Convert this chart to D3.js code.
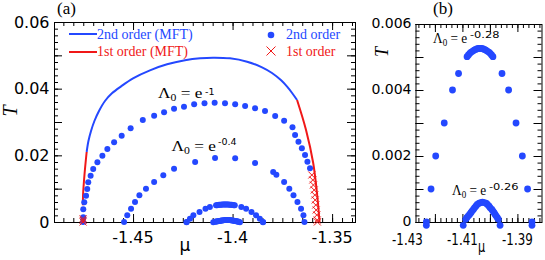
<!DOCTYPE html>
<html><head><meta charset="utf-8">
<script src="https://cdn.jsdelivr.net/npm/d3@7"></script>
<style>body{margin:0;background:#fff}</style>
</head><body>
<svg id="c" width="545" height="260"></svg>
<script>
// ---------------- data ----------------
// Mean-field (MFT) phase boundary, panel (a)
const mftRedLeftMu  = [-1.4752, -1.4751, -1.4744, -1.4733];
const mftRedLeftT   = [0.0050, 0.0081, 0.0141, 0.0210];
const mftBlueMu = [-1.4733, -1.4724, -1.4711, -1.4694, -1.4671, -1.4641, -1.4606, -1.4560, -1.4500, -1.4415, -1.4329, -1.4239, -1.4163, -1.4098, -1.4013, -1.3927, -1.3852, -1.3802, -1.3756, -1.3726, -1.3701, -1.3676];
const mftBlueT  = [0.0210, 0.0243, 0.0273, 0.0303, 0.0333, 0.0363, 0.0386, 0.0407, 0.0431, 0.0455, 0.0473, 0.0485, 0.0491, 0.0493, 0.0491, 0.0481, 0.0464, 0.0447, 0.0425, 0.0406, 0.0387, 0.0366];
const mftRedRightMu = [-1.3676, -1.3631, -1.3595, -1.3575, -1.3563];
const mftRedRightT  = [0.0366, 0.0276, 0.0177, 0.0081, 0.0000];

// first-order points (crosses)
const firstLeftMu  = [-1.4751, -1.4751, -1.4751];
const firstLeftT   = [0.0000, 0.0005, 0.0010];
const firstRightMu = [-1.3574, -1.3575, -1.3577, -1.3580, -1.3582, -1.3585, -1.3587, -1.3590, -1.3594, -1.3597, -1.3602];
const firstRightT  = [0.0000, 0.0006, 0.0021, 0.0036, 0.0051, 0.0066, 0.0081, 0.0096, 0.0111, 0.0126, 0.0141];

// second-order points, Lambda0 = e^-1
const secAMu = [-1.4751, -1.4750, -1.4750, -1.4745, -1.4736, -1.4730, -1.4725, -1.4713, -1.4700, -1.4679, -1.4654, -1.4629, -1.4595, -1.4557, -1.4512, -1.4451, -1.4394, -1.4344, -1.4294, -1.4244, -1.4193, -1.4141, -1.4090, -1.4038, -1.3987, -1.3937, -1.3887, -1.3837, -1.3786, -1.3741, -1.3699, -1.3686, -1.3669, -1.3652, -1.3636, -1.3624, -1.3611];
const secAT  = [0.0000, 0.0014, 0.0038, 0.0059, 0.0079, 0.0099, 0.0119, 0.0139, 0.0159, 0.0179, 0.0199, 0.0219, 0.0239, 0.0259, 0.0281, 0.0306, 0.0319, 0.0329, 0.0340, 0.0346, 0.0353, 0.0356, 0.0358, 0.0356, 0.0353, 0.0348, 0.0341, 0.0333, 0.0318, 0.0304, 0.0284, 0.0261, 0.0241, 0.0221, 0.0201, 0.0181, 0.0161];

// Lambda0 = e^-0.4
const secBMu = [-1.4545, -1.4529, -1.4510, -1.4490, -1.4468, -1.4435, -1.4394, -1.4348, -1.4294, -1.4188, -1.4088, -1.3987, -1.3887, -1.3796, -1.3780, -1.3741, -1.3715, -1.3694, -1.3674, -1.3656, -1.3644, -1.3639];
const secBT  = [0.0000, 0.0020, 0.0040, 0.0060, 0.0080, 0.0100, 0.0120, 0.0140, 0.0160, 0.0180, 0.0192, 0.0191, 0.0177, 0.0150, 0.0142, 0.0120, 0.0100, 0.0080, 0.0060, 0.0040, 0.0020, 0.0000];

// Lambda0 = e^-0.28
const secCMu = [-1.4231, -1.4231, -1.4214, -1.4197, -1.4166, -1.4136, -1.4114,
  -1.4083, -1.4078, -1.4073, -1.4068, -1.4062, -1.4057, -1.4052, -1.4046, -1.4041, -1.4036, -1.4031, -1.4026, -1.4020, -1.4015, -1.4010, -1.4004, -1.3999, -1.3994, -1.3989,
  -1.3956, -1.3932, -1.3905, -1.3882, -1.3863, -1.3847, -1.3847];
const secCT  = [-0.0001, 0.0000, 0.0010, 0.0020, 0.0030, 0.0040, 0.0045,
  0.00501, 0.00506, 0.00511, 0.00515, 0.00518, 0.00521, 0.00523, 0.00525, 0.00526, 0.00526, 0.00526, 0.00525, 0.00523, 0.00521, 0.00518, 0.00515, 0.00511, 0.00506, 0.00501,
  0.0045, 0.0040, 0.0030, 0.0020, 0.0010, 0.0000, -0.0001];

// Lambda0 = e^-0.26
const secDMu = [-1.4097, -1.4088, -1.4084, -1.4079, -1.4074, -1.4069, -1.4065, -1.4060, -1.4056, -1.4051, -1.4046, -1.4039, -1.4033, -1.4027, -1.4021, -1.4014, -1.4009, -1.4003, -1.3999, -1.3993, -1.3989, -1.3985, -1.3981, -1.3977, -1.3973, -1.3969, -1.3963];
const secDT  = [-0.0001, 0.00008, 0.00013, 0.00018, 0.00023, 0.00028, 0.00033, 0.00038, 0.00043, 0.00048, 0.00053, 0.00057, 0.00059, 0.00060, 0.00059, 0.00057, 0.00053, 0.00048, 0.00043, 0.00038, 0.00033, 0.00028, 0.00023, 0.00018, 0.00013, 0.00008, -0.0001];

// tick labels
const xLabelsA = [-1.45, -1.4, -1.35];
const yLabelsA = [0, 0.02, 0.04, 0.06];
const xLabelsB = [-1.43, -1.41, -1.39];
const yLabelsB = [0, 0.002, 0.004, 0.006];

// ---------------- drawing ----------------
const BLUE = "#2448ff", RED = "#f01818";
const svg = d3.select("#c");
const zip = (a, b) => a.map((v, i) => [v, b[i]]);

function panel(cfg) {
  const g = svg.append("g");
  const x = d3.scaleLinear().domain(cfg.xd).range(cfg.xr);
  const y = d3.scaleLinear().domain(cfg.yd).range(cfg.yr);
  const [x0, x1] = cfg.xr, [y0, y1] = cfg.yr;
  const mk = (axisFn, scale, vals, len, tr) => {
    const a = g.append("g").attr("transform", tr)
      .call(axisFn(scale).tickValues(vals).tickSize(len).tickFormat(""));
    a.select(".domain").remove();
    a.selectAll("line").attr("stroke", "#000").attr("stroke-width", 1);
  };
  const inX = v => v >= Math.min(...cfg.xd) - 1e-9 && v <= Math.max(...cfg.xd) + 1e-9;
  const inY = v => v >= cfg.yd[0] - 1e-12 && v <= cfg.yd[1] + 1e-12;
  const xmin = cfg.xMinor.filter(inX), xmaj = cfg.xMajor.filter(inX);
  const ymin = cfg.yMinor.filter(inY), ymaj = cfg.yMajor.filter(inY);
  mk(d3.axisTop, x, xmin, 4, `translate(0,${y0})`);
  mk(d3.axisTop, x, xmaj, 8, `translate(0,${y0})`);
  mk(d3.axisBottom, x, xmin, 4, `translate(0,${y1})`);
  mk(d3.axisBottom, x, xmaj, 8, `translate(0,${y1})`);
  mk(d3.axisRight, y, ymin, 4, `translate(${x0},0)`);
  mk(d3.axisRight, y, ymaj, 8, `translate(${x0},0)`);
  mk(d3.axisLeft, y, ymin, 4, `translate(${x1},0)`);
  mk(d3.axisLeft, y, ymaj, 8, `translate(${x1},0)`);
  g.append("rect").attr("x", x0 + 0.5).attr("y", y1 + 0.5)
    .attr("width", x1 - x0).attr("height", y0 - y1)
    .attr("fill", "none").attr("stroke", "#000").attr("stroke-width", 1);
  return { g, x, y };
}

const A = panel({
  xd: [-1.4897, -1.3385], xr: [54, 355],
  yd: [0, 0.06], yr: [222, 22],
  xMajor: [-1.45, -1.40, -1.35],
  xMinor: d3.range(0, 31).map(i => -1.485 + i * 0.005),
  yMajor: d3.range(0, 7).map(i => i * 0.01),
  yMinor: d3.range(0, 31).map(i => i * 0.002)
});
const B = panel({
  xd: [-1.42705, -1.38124], xr: [415.5, 541.5],
  yd: [0, 0.006], yr: [222, 24],
  xMajor: [-1.42, -1.41, -1.40, -1.39],
  xMinor: d3.range(0, 23).map(i => -1.426 + i * 0.002),
  yMajor: d3.range(0, 7).map(i => i * 0.001),
  yMinor: d3.range(0, 31).map(i => i * 0.0002)
});

const fmt = v => v === 0 ? "0" : String(v);
const sans = "DejaVu Sans, sans-serif", serif = "Liberation Serif, Times New Roman, serif";

A.g.selectAll(null).data(xLabelsA).enter().append("text")
  .attr("x", d => A.x(d)).attr("y", 243).attr("text-anchor", "middle")
  .attr("font-family", sans).attr("font-size", 16).text(fmt);
A.g.selectAll(null).data(yLabelsA).enter().append("text")
  .attr("x", 49.5).attr("y", d => A.y(d)).attr("dy", "0.36em").attr("text-anchor", "end")
  .attr("font-family", sans).attr("font-size", 16).text(fmt);
B.g.selectAll(null).data(xLabelsB).enter().append("text")
  .attr("transform", d => `translate(${B.x(d)},244.5) scale(0.74,1)`).attr("text-anchor", "middle")
  .attr("font-family", sans).attr("font-size", 16).text(fmt);
B.g.selectAll(null).data(yLabelsB).enter().append("text")
  .attr("x", 411.5).attr("y", d => B.y(d) - 0.8).attr("dy", "0.33em").attr("text-anchor", "end")
  .attr("font-family", sans).attr("font-size", 14).text(fmt);

// axis titles
svg.append("text").attr("transform", "translate(185,251)").attr("text-anchor", "middle")
  .attr("font-family", sans).attr("font-size", 17).text("μ");
svg.append("text").attr("transform", "translate(481.5,252) scale(0.7,1)").attr("text-anchor", "middle")
  .attr("font-family", sans).attr("font-size", 16).text("μ");
svg.append("text").attr("transform", "translate(17,111) rotate(-90)").attr("text-anchor", "middle")
  .attr("font-family", serif).attr("font-style", "italic").attr("font-size", 20).text("T");
svg.append("text").attr("transform", "translate(388,52) rotate(-90)").attr("text-anchor", "middle")
  .attr("font-family", serif).attr("font-style", "italic").attr("font-size", 18).text("T");

svg.append("text").attr("x", 57).attr("y", 14).attr("font-family", serif).attr("font-size", 17).text("(a)");
svg.append("text").attr("x", 433).attr("y", 14).attr("font-family", serif).attr("font-size", 17).text("(b)");

// MFT lines
const line = (P) => d3.line().x(d => P.x(d[0])).y(d => P.y(d[1])).curve(d3.curveCatmullRom.alpha(0.5));
A.g.append("path").attr("d", line(A)(zip(mftBlueMu, mftBlueT))).attr("fill", "none").attr("stroke", BLUE).attr("stroke-width", 2);
A.g.append("path").attr("d", line(A)(zip(mftRedLeftMu, mftRedLeftT))).attr("fill", "none").attr("stroke", RED).attr("stroke-width", 2);
A.g.append("path").attr("d", line(A)(zip(mftRedRightMu, mftRedRightT))).attr("fill", "none").attr("stroke", RED).attr("stroke-width", 2);

function dots(P, mu, T, r) {
  P.g.append("g").selectAll("circle").data(zip(mu, T)).enter().append("circle")
    .attr("cx", d => P.x(d[0])).attr("cy", d => P.y(d[1])).attr("r", r).attr("fill", BLUE);
}
dots(A, secAMu, secAT, 3);
dots(A, secBMu, secBT, 3);
dots(A, secCMu, secCT, 3);
dots(A, secDMu, secDT, 3);
dots(B, secCMu, secCT, 3.4);
dots(B, secDMu, secDT, 3.4);

function crosses(P, mu, T, s) {
  const g = P.g.append("g").attr("stroke", RED).attr("stroke-width", 1);
  zip(mu, T).forEach(d => {
    const cx = P.x(d[0]), cy = P.y(d[1]);
    g.append("path").attr("d", `M${cx - s},${cy - s}L${cx + s},${cy + s}M${cx - s},${cy + s}L${cx + s},${cy - s}`);
  });
}
crosses(A, firstLeftMu, firstLeftT, 3.5);
crosses(A, firstRightMu, firstRightT, 3.5);

// legend
const lg = svg.append("g");
lg.append("line").attr("x1", 69).attr("x2", 97).attr("y1", 34).attr("y2", 34).attr("stroke", BLUE).attr("stroke-width", 2);
lg.append("text").attr("x", 97).attr("y", 38.5).attr("font-family", serif).attr("font-size", 14).attr("fill", BLUE).text("2nd order (MFT)");
lg.append("line").attr("x1", 69).attr("x2", 97).attr("y1", 52).attr("y2", 52).attr("stroke", RED).attr("stroke-width", 2);
lg.append("text").attr("x", 97).attr("y", 56).attr("font-family", serif).attr("font-size", 14).attr("fill", RED).text("1st order (MFT)");
lg.append("circle").attr("cx", 271).attr("cy", 35).attr("r", 3.3).attr("fill", BLUE);
lg.append("text").attr("x", 286).attr("y", 39).attr("font-family", serif).attr("font-size", 14).attr("fill", BLUE).text("2nd order");
lg.append("path").attr("d", "M266.5,46.5L275.5,55.5M266.5,55.5L275.5,46.5").attr("stroke", RED).attr("stroke-width", 1);
lg.append("text").attr("x", 286).attr("y", 56).attr("font-family", serif).attr("font-size", 14).attr("fill", RED).text("1st order");

// Lambda annotations: main part and exponent placed separately
function lam(x, y, fs, sx, ex, ey, esx, expo) {
  const t = svg.append("text").attr("transform", `translate(${x},${y}) scale(${sx},1)`)
    .attr("font-family", serif).attr("font-size", fs);
  t.append("tspan").text("Λ");
  t.append("tspan").attr("font-size", fs * 0.68).attr("dy", 3).text("0");
  t.append("tspan").attr("dy", -3).text(" = e");
  svg.append("text").attr("transform", `translate(${ex},${ey}) scale(${esx},1)`)
    .attr("font-family", sans).attr("font-size", 9.5).text(expo);
}
lam(158, 98, 15, 1.15, 205, 95, 1, "-1");
lam(171.5, 150.5, 15, 1.15, 218, 145, 1, "-0.4");
lam(433, 43, 14, 0.95, 470, 38, 1.2, "-0.28");
lam(452, 195, 14, 0.95, 489, 190, 1.2, "-0.26");
</script>
</body></html>
